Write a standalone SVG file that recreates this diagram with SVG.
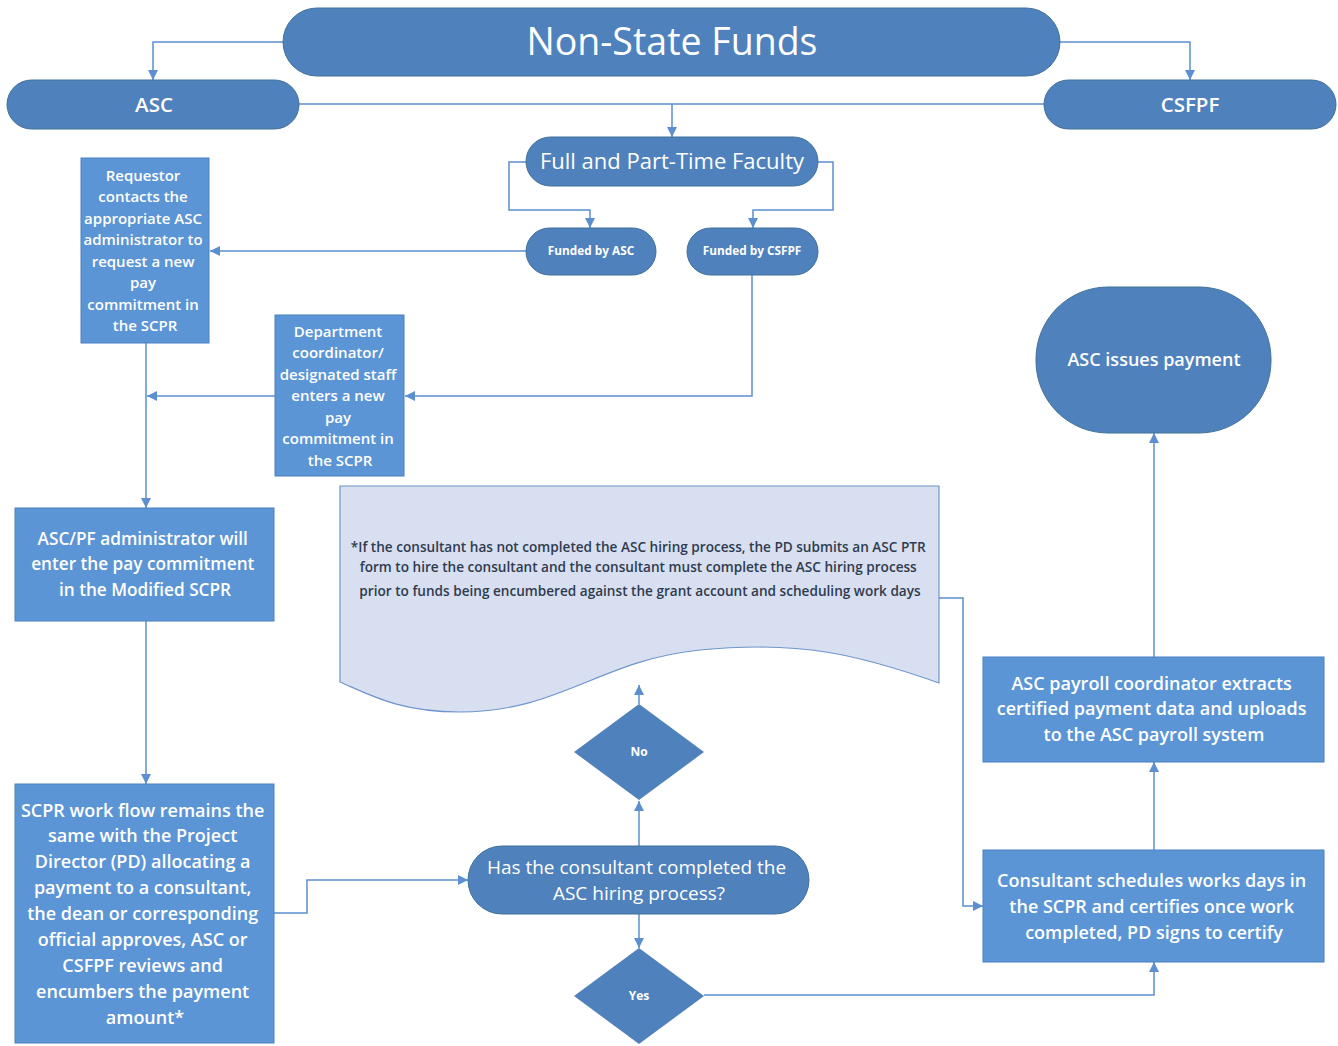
<svg xmlns="http://www.w3.org/2000/svg" width="1338" height="1046" viewBox="0 0 1338 1046">
<defs>
<marker id="ah" viewBox="0 0 10 10" refX="10" refY="5" markerWidth="10" markerHeight="10" markerUnits="userSpaceOnUse" orient="auto">
<path d="M0,0 L10,5 L0,10 z" fill="#5b8fd0"/>
</marker>
</defs>
<style>
.pill{fill:#4f81bd;stroke:#41719c;stroke-width:1}
.box{fill:#5b95d5;stroke:#4a80c0;stroke-width:1}
.dia{fill:#4f81bd}
.doc{fill:#d7dff1;stroke:#6f95cc;stroke-width:1.2}
.t{font-family:"Open Sans","Liberation Sans",Arial,sans-serif;fill:#ffffff;text-anchor:middle}
.sb{font-weight:600}
.dt{font-family:"Open Sans","Liberation Sans",Arial,sans-serif;fill:#2f3b4f;text-anchor:middle;font-size:13.6px;font-weight:600}
.c{fill:none;stroke:#5b8fd0;stroke-width:1.5}
.ca{fill:none;stroke:#5b8fd0;stroke-width:1.5;marker-end:url(#ah)}
</style>
<rect width="1338" height="1046" fill="#ffffff"/>

<g id="connectors">
<path class="ca" d="M283,42 H153 V80"/>
<path class="ca" d="M1060,42 H1190 V80"/>
<path class="c" d="M299,104 H1044"/>
<path class="ca" d="M672,104 V137"/>
<path class="ca" d="M526,162 H509 V210 H590 V228"/>
<path class="ca" d="M818,162 H833 V210 H753 V228"/>
<path class="ca" d="M526,251 H210"/>
<path class="ca" d="M752,275 V396 H405"/>
<path class="ca" d="M275,396 H147"/>
<path class="ca" d="M146,343 V508"/>
<path class="ca" d="M146,621 V784"/>
<path class="ca" d="M274,913 H307 V880 H468"/>
<path class="ca" d="M639,846 V801"/>
<path class="ca" d="M639,704 V685"/>
<path class="ca" d="M639,914 V948"/>
<path class="ca" d="M939,598 H963 V906 H983"/>
<path class="ca" d="M704,995 H1154 V962"/>
<path class="ca" d="M1154,850 V762"/>
<path class="ca" d="M1154,657 V433"/>
</g>

<g id="title">
<rect class="pill" x="283" y="8" width="777" height="68" rx="34"/>
<text class="t" x="672" y="55" font-size="37.5">Non-State Funds</text>
</g>
<g id="asc">
<rect class="pill" x="7" y="80" width="292" height="49" rx="24.5"/>
<text class="t sb" x="154" y="112" font-size="20.5">ASC</text>
</g>
<g id="csfpf">
<rect class="pill" x="1044" y="80" width="292" height="49" rx="24.5"/>
<text class="t sb" x="1190" y="112" font-size="20.5">CSFPF</text>
</g>
<g id="faculty">
<rect class="pill" x="526" y="137" width="292" height="49" rx="24.5"/>
<text class="t" x="672" y="169" font-size="22">Full and Part-Time Faculty</text>
</g>
<g id="funded-asc">
<rect class="pill" x="526" y="228" width="130" height="47" rx="23.5"/>
<text class="t" x="591" y="255" font-size="11.8" font-weight="bold">Funded by ASC</text>
</g>
<g id="funded-csfpf">
<rect class="pill" x="687" y="228" width="131" height="47" rx="23.5"/>
<text class="t" x="752" y="255" font-size="11.8" font-weight="bold">Funded by CSFPF</text>
</g>
<g id="requestor">
<rect class="box" x="81" y="158" width="128" height="185"/>
<text class="t sb" font-size="15">
<tspan x="145" y="181">Requestor</tspan>
<tspan x="145" y="202">contacts the</tspan>
<tspan x="145" y="224">appropriate ASC</tspan>
<tspan x="145" y="245">administrator to</tspan>
<tspan x="145" y="267">request a new</tspan>
<tspan x="145" y="288">pay</tspan>
<tspan x="145" y="310">commitment in</tspan>
<tspan x="145" y="331">the SCPR</tspan>
</text>
</g>
<g id="department">
<rect class="box" x="275" y="315" width="129" height="161"/>
<text class="t sb" font-size="15">
<tspan x="340" y="337">Department</tspan>
<tspan x="340" y="358">coordinator/</tspan>
<tspan x="340" y="380">designated staff</tspan>
<tspan x="340" y="401">enters a new</tspan>
<tspan x="340" y="423">pay</tspan>
<tspan x="340" y="444">commitment in</tspan>
<tspan x="340" y="466">the SCPR</tspan>
</text>
</g>
<g id="ascpf">
<rect class="box" x="15" y="508" width="259" height="113"/>
<text class="t sb" font-size="17.2">
<tspan x="145" y="545">ASC/PF administrator will</tspan>
<tspan x="145" y="570">enter the pay commitment</tspan>
<tspan x="145" y="596">in the Modified SCPR</tspan>
</text>
</g>
<g id="scpr">
<rect class="box" x="15" y="784" width="259" height="259"/>
<text class="t sb" font-size="18">
<tspan x="145" y="817">SCPR work flow remains the</tspan>
<tspan x="145" y="842">same with the Project</tspan>
<tspan x="145" y="868">Director (PD) allocating a</tspan>
<tspan x="145" y="894">payment to a consultant,</tspan>
<tspan x="145" y="920">the dean or corresponding</tspan>
<tspan x="145" y="946">official approves, ASC or</tspan>
<tspan x="145" y="972">CSFPF reviews and</tspan>
<tspan x="145" y="998">encumbers the payment</tspan>
<tspan x="145" y="1024">amount*</tspan>
</text>
</g>
<g id="note">
<path class="doc" d="M340,486 H939 V683 C860,655 800,640 700,650 C600,660 560,712 460,712 C400,712 370,695 340,682 Z"/>
<text class="dt">
<tspan x="640" y="552">*If the consultant has not completed the ASC hiring process, the PD submits an ASC PTR</tspan>
<tspan x="640" y="572">form to hire the consultant and the consultant must complete the ASC hiring process</tspan>
<tspan x="640" y="596">prior to funds being encumbered against the grant account and scheduling work days</tspan>
</text>
</g>
<g id="no">
<path class="dia" d="M639,704 L704,752 L639,800 L574,752 Z"/>
<text class="t" x="639" y="756" font-size="12" font-weight="bold">No</text>
</g>
<g id="question">
<rect class="pill" x="468" y="846" width="341" height="68" rx="34"/>
<text class="t" font-size="19">
<tspan x="639" y="874">Has the consultant completed the</tspan>
<tspan x="639" y="900">ASC hiring process?</tspan>
</text>
</g>
<g id="yes">
<path class="dia" d="M639,948 L704,996 L639,1044 L574,996 Z"/>
<text class="t" x="639" y="1000" font-size="12" font-weight="bold">Yes</text>
</g>
<g id="consultant">
<rect class="box" x="983" y="850" width="341" height="112"/>
<text class="t sb" font-size="18">
<tspan x="1154" y="887">Consultant schedules works days in</tspan>
<tspan x="1154" y="913">the SCPR and certifies once work</tspan>
<tspan x="1154" y="939">completed, PD signs to certify</tspan>
</text>
</g>
<g id="payroll">
<rect class="box" x="983" y="657" width="341" height="105"/>
<text class="t sb" font-size="18">
<tspan x="1154" y="690">ASC payroll coordinator extracts</tspan>
<tspan x="1154" y="715">certified payment data and uploads</tspan>
<tspan x="1154" y="741">to the ASC payroll system</tspan>
</text>
</g>
<g id="issues">
<rect class="pill" x="1036" y="287" width="235" height="146" rx="72"/>
<text class="t sb" x="1154" y="366" font-size="18">ASC issues payment</text>
</g>
</svg>
